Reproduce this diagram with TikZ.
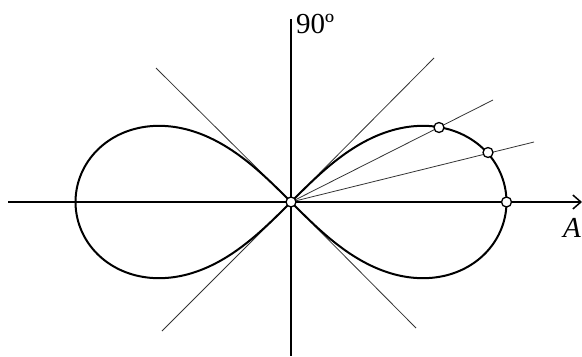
\documentclass[tikz,border=0pt]{standalone}
\usepackage{fontspec}
\setmainfont{Liberation Serif}
\usetikzlibrary{arrows.meta}
\begin{document}
\begin{tikzpicture}[x=1bp,y=-1bp,
  thinline/.style={line width=0.8bp, black!80},
  axisline/.style={line width=1.2bp},
  curve/.style={line width=2bp},
  dot/.style={circle, draw, line width=1.3bp, fill=white, inner sep=0pt, minimum size=10bp},
  lbl/.style={inner sep=0pt, font=\fontsize{29bp}{32bp}\selectfont}]
\useasboundingbox (0,0) rectangle (582,356);
% axes
\coordinate (L) at (8,202);
\coordinate (T) at (291,19);
\coordinate (B) at (291,356);
\coordinate (R) at (582,202);
\coordinate (O0) at (291,202);
\draw[axisline] (L) -- (O0);
\draw[axisline] (T) -- (B);
% tangent lines
\coordinate (TL) at (156,68);
\coordinate (TR) at (434,58);
\coordinate (BL) at (162,331);
\coordinate (BR) at (416,328);
\draw[thinline] (TL) -- (O0) -- (BR);
\draw[thinline] (BL) -- (O0) -- (TR);
% rays
\coordinate (E1) at (493,100);
\coordinate (E2) at (534,142);
\draw[thinline] (O0) -- (E1);
\draw[thinline] (O0) -- (E2);
% lemniscate
\draw[curve] plot[domain=0:360, samples=240, smooth, variable=\t]
  ({291 + 215.5*cos(\t)/(1+sin(\t)^2)}, {202 - 215.5*sin(\t)*cos(\t)/(1+sin(\t)^2)});
% thick arrow
\draw[curve, -{Straight Barb[length=8bp,width=14bp,line width=1.5bp]}] (O0) -- (R);
% points
\node[dot] (O) at (O0) {};
\node[dot] (P1) at (439,127.5) {};
\node[dot] (P2) at (488,152.5) {};
\node[dot] (P3) at (506.5,202) {};
% labels
\node[lbl, anchor=base west] (l90) at (296,33) {90º};
\node[lbl, anchor=base west, font=\fontsize{29bp}{32bp}\selectfont\itshape] (lA) at (563,237) {A};
\end{tikzpicture}
\end{document}
